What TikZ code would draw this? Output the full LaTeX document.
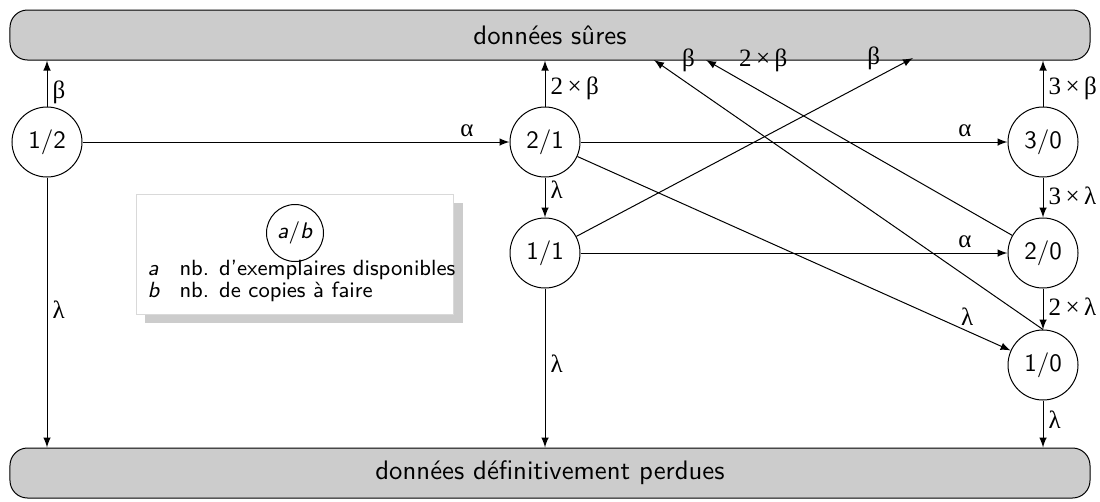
\documentclass[tikz,border=0pt]{standalone}
\usepackage{fontspec}
\newfontfamily\grk{Liberation Serif}
\renewcommand{\familydefault}{\sfdefault}
\usetikzlibrary{shadows}
\tikzset{
  state/.style={circle,draw,minimum size=28pt,inner sep=0pt},
  band/.style={draw,fill=gray!40,rounded corners=7pt,minimum width=432pt,minimum height=20pt,
    font=\fontsize{10.7}{13}\selectfont},
  keytext/.style={anchor=base west,inner sep=0pt,font=\fontsize{8.8}{11}\selectfont},
  rate/.style={font=\fontsize{10}{12}\selectfont\grk,inner sep=2pt},
}
\newcommand{\tms}{\hspace{1.8pt}×\hspace{1.8pt}}
\begin{document}
\begin{tikzpicture}[x=0.4pt,y=-0.4pt]
      \useasboundingbox (0,0) rectangle (1100,501);
      \node[band] (safe) at (550,35) {données sûres};
      \node[band] (lost) at (550,473) {données définitivement perdues};
      % legend
      \node[draw=gray!30,fill=white,minimum width=127pt,minimum height=48pt,
        drop shadow={shadow xshift=3.5pt,shadow yshift=-3.5pt,fill=gray!40,opacity=1}] (key) at (295,254) {};
      \node[state,minimum size=22.8pt,font=\fontsize{9}{11}\selectfont] (kab) at (295,233) {\textit{a}/\textit{b}};
      \node[keytext] (ka) at (147,275) {\textit{a}};
      \node[keytext] (kat) at (179,275) {nb. d'exemplaires disponibles};
      \node[keytext] (kb) at (147,297) {\textit{b}};
      \node[keytext] (kbt) at (179,297) {nb. de copies à faire};
      \begin{scope}[every node/.style={state}]
        \node (s12) at (47,142) {1/2};
        \node (s21) at (545,142) {2/1};
        \node (s30) at (1043,142) {3/0};
        \node (s11) at (545,253) {1/1};
        \node (s20) at (1043,253) {2/0};
        \node (s10) at (1043,365) {1/0};
      \end{scope}
      \coordinate (ta) at (654,60);
      \coordinate (tb) at (706,60);
      \coordinate (tc) at (913,58);
      \begin{scope}[every edge/.style={draw=black,-latex},every node/.style={rate}]
        \path (s12) edge node[pos=0.3,right] {β} (s12|-safe.south);
        \path (s12) edge node[pos=0.49,right] {λ} (s12|-lost.north);
        \path (s12) edge node[pos=0.9,above] {α} (s21);
        \path (s21) edge node[pos=0.4,right] {2\tms β} (s21|-safe.south);
        \path (s21) edge node[pos=0.3,right] {λ} (s11);
        \path (s21) edge node[pos=0.9,above] {α} (s30);
        \path (s21) edge node[pos=0.9,above] {λ} (s10);
        \path (s11) edge node[pos=1,left=11pt] {β} (tc);
        \path (s11) edge node[pos=0.9,above] {α} (s20);
        \path (s11) edge node[pos=0.47,right] {λ} (s11|-lost.north);
        \path (s30) edge node[pos=0.4,right] {3\tms β} (s30|-safe.south);
        \path (s30) edge node[pos=0.45,right] {3\tms λ} (s20);
        \path (s20) edge node[pos=1,right=11pt] {2\tms β} (tb);
        \path (s20) edge node[pos=0.45,right] {2\tms λ} (s10);
        \path (s10.north) edge node[pos=1,right=9pt] {β} (ta);
        \path (s10) edge node[pos=0.4,right] {λ} (s10|-lost.north);
      \end{scope}
    \end{tikzpicture}
\end{document}
